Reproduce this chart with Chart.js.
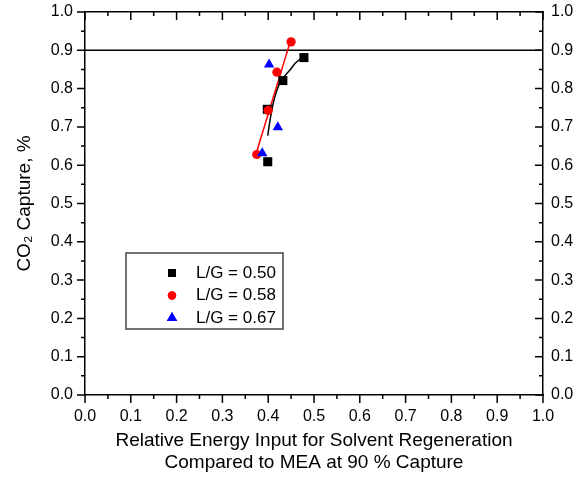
<!DOCTYPE html>
<html>
<head>
<meta charset="utf-8">
<script src="https://cdn.jsdelivr.net/npm/chart.js@4/dist/chart.umd.min.js"></script>
<style>
  html, body { margin: 0; padding: 0; background: #fff; }
  #wrap { width: 586px; height: 479px; }
</style>
</head>
<body>
<div id="wrap"><canvas id="captureChart"></canvas></div>
<script>
// データ
const seriesLabels = ['L/G = 0.50', 'L/G = 0.58', 'L/G = 0.67'];
const lg050X = [0.399, 0.398, 0.432, 0.478];
const lg050Y = [0.609, 0.746, 0.821, 0.881];
const lg058X = [0.375, 0.400, 0.419, 0.450];
const lg058Y = [0.628, 0.743, 0.843, 0.922];
const lg067X = [0.387, 0.402, 0.421];
const lg067Y = [0.631, 0.863, 0.699];
// L/G = 0.50 のフィット曲線
const fit050X = [0.399, 0.404, 0.411, 0.419, 0.428, 0.448, 0.459, 0.470, 0.478];
const fit050Y = [0.677, 0.718, 0.762, 0.796, 0.820, 0.849, 0.866, 0.877, 0.881];
// L/G = 0.58 の直線フィット
const fit058X = [0.373, 0.448];
const fit058Y = [0.628, 0.922];
const targetCapture = 0.9;
const tickValues = [0.0, 0.1, 0.2, 0.3, 0.4, 0.5, 0.6, 0.7, 0.8, 0.9, 1.0];

const FONT = 'Liberation Sans, Arial, sans-serif';

function pts(xs, ys) {
    return xs.map((x, i) => ({ x: x, y: ys[i] }));
}

// 目盛り線 (主・副) を描くプラグイン
const tickPlugin = {
    id: 'frameTicks',
    afterDraw(chart) {
        const ctx = chart.ctx;
        const { left, right, top, bottom } = chart.chartArea;
        const sx = chart.scales.x, sy = chart.scales.y;
        ctx.save();
        ctx.strokeStyle = '#000';
        ctx.lineWidth = 1.5;
        ctx.beginPath();
        for (let i = 0; i <= 20; i++) {
            const v = i * 0.05;
            const len = (i % 2 === 0) ? 8 : 4;
            const px = sx.getPixelForValue(v);
            const py = sy.getPixelForValue(v);
            // 下 (外向き)
            ctx.moveTo(px, bottom); ctx.lineTo(px, bottom + len);
            // 上 (内向き)
            ctx.moveTo(px, top); ctx.lineTo(px, top + len);
            // 左 (外向き)
            ctx.moveTo(left, py); ctx.lineTo(left - len, py);
            // 右 (内向き)
            ctx.moveTo(right, py); ctx.lineTo(right - len, py);
        }
        ctx.stroke();
        ctx.restore();
    }
};

// グラフ内の凡例ボックス
const boxLegendPlugin = {
    id: 'boxLegend',
    afterDraw(chart) {
        const ctx = chart.ctx;
        const styles = [
            { pointStyle: 'rect', radius: 5.7, color: '#000000' },
            { pointStyle: 'circle', radius: 4.2, color: '#ff0000' },
            { pointStyle: 'triangle', radius: 6, color: '#0000ff' }
        ];
        ctx.save();
        ctx.strokeStyle = '#444';
        ctx.lineWidth = 1.5;
        ctx.strokeRect(126, 253, 157, 76);
        ctx.font = '17px ' + FONT;
        ctx.textBaseline = 'middle';
        ctx.textAlign = 'left';
        seriesLabels.forEach((label, i) => {
            const y = 273 + i * 22.5;
            const s = styles[i];
            ctx.fillStyle = s.color;
            ctx.strokeStyle = s.color;
            Chart.helpers.drawPoint(ctx, { pointStyle: s.pointStyle, radius: s.radius, rotation: 0, borderWidth: 0 }, 172, y);
            ctx.fill();
            ctx.fillStyle = '#000';
            ctx.fillText(label, 196, y);
        });
        ctx.restore();
    }
};

// 目盛りラベルのはみ出し分の余白を消してプロット領域を固定
function noOverflow(s) {
    s.paddingTop = 0;
    s.paddingBottom = 0;
    s.paddingLeft = 0;
    s.paddingRight = 0;
}

const axisBase = {
    type: 'linear',
    min: 0,
    max: 1,
    grid: { display: false, drawTicks: false },
    border: { display: true, color: '#000', width: 1.5 }
};

const ctx = document.getElementById('captureChart').getContext('2d');
new Chart(ctx, {
    type: 'scatter',
    data: {
        datasets: [
            {
                label: seriesLabels[2],
                data: pts(lg067X, lg067Y),
                pointStyle: 'triangle',
                pointRadius: 6,
                backgroundColor: '#0000ff',
                borderWidth: 0
            },
            {
                label: seriesLabels[1],
                data: pts(lg058X, lg058Y),
                pointStyle: 'circle',
                pointRadius: 4.6,
                backgroundColor: '#ff0000',
                borderWidth: 0
            },
            {
                label: seriesLabels[0],
                data: pts(lg050X, lg050Y),
                pointStyle: 'rect',
                pointRadius: 6.4,
                backgroundColor: '#000000',
                borderWidth: 0
            },
            {
                label: 'fit 0.58',
                data: pts(fit058X, fit058Y),
                showLine: true,
                borderColor: '#ff0000',
                borderWidth: 1.5,
                pointRadius: 0
            },
            {
                label: 'fit 0.50',
                data: pts(fit050X, fit050Y),
                showLine: true,
                borderColor: '#000000',
                borderWidth: 1.5,
                pointRadius: 0,
                cubicInterpolationMode: 'monotone'
            },
            {
                label: '90 %',
                data: [{ x: 0, y: targetCapture }, { x: 1, y: targetCapture }],
                showLine: true,
                borderColor: '#000000',
                borderWidth: 1.5,
                pointRadius: 0
            }
        ]
    },
    options: {
        responsive: true,
        maintainAspectRatio: false,
        animation: false,
        layout: { padding: 0 },
        plugins: {
            legend: { display: false },
            tooltip: { enabled: false }
        },
        scales: {
            x: Object.assign({}, axisBase, {
                position: 'bottom',
                afterBuildTicks: s => { s.ticks = tickValues.map(v => ({ value: v })); },
                afterFit: s => { s.height = 84; noOverflow(s); },
                ticks: {
                    callback: v => v.toFixed(1),
                    font: { family: FONT, size: 16 },
                    color: '#000',
                    padding: 12,
                    maxRotation: 0,
                    autoSkip: false
                },
                title: {
                    display: true,
                    text: ['Relative Energy Input for Solvent Regeneration', 'Compared to MEA at 90 % Capture'],
                    font: { family: FONT, size: 19, lineHeight: 1.16 },
                    color: '#000',
                    padding: { top: 0, bottom: 5 }
                }
            }),
            x2: Object.assign({}, axisBase, {
                position: 'top',
                afterFit: s => { s.height = 12; noOverflow(s); },
                ticks: { display: false }
            }),
            y: Object.assign({}, axisBase, {
                position: 'left',
                afterBuildTicks: s => { s.ticks = tickValues.map(v => ({ value: v })); },
                afterFit: s => { s.width = 85; noOverflow(s); },
                ticks: {
                    callback: v => v.toFixed(1),
                    font: { family: FONT, size: 16 },
                    color: '#000',
                    padding: 12,
                    autoSkip: false
                },
                title: {
                    display: true,
                    text: 'CO\u2082 Capture, %',
                    font: { family: FONT, size: 19, lineHeight: 1.2 },
                    color: '#000',
                    padding: { top: 13, bottom: 0 }
                }
            }),
            y2: Object.assign({}, axisBase, {
                position: 'right',
                afterBuildTicks: s => { s.ticks = tickValues.map(v => ({ value: v })); },
                afterFit: s => { s.width = 43; noOverflow(s); },
                ticks: {
                    callback: v => v.toFixed(1),
                    font: { family: FONT, size: 16 },
                    color: '#000',
                    padding: 8,
                    autoSkip: false
                }
            })
        }
    },
    plugins: [tickPlugin, boxLegendPlugin]
});
</script>
</body>
</html>
